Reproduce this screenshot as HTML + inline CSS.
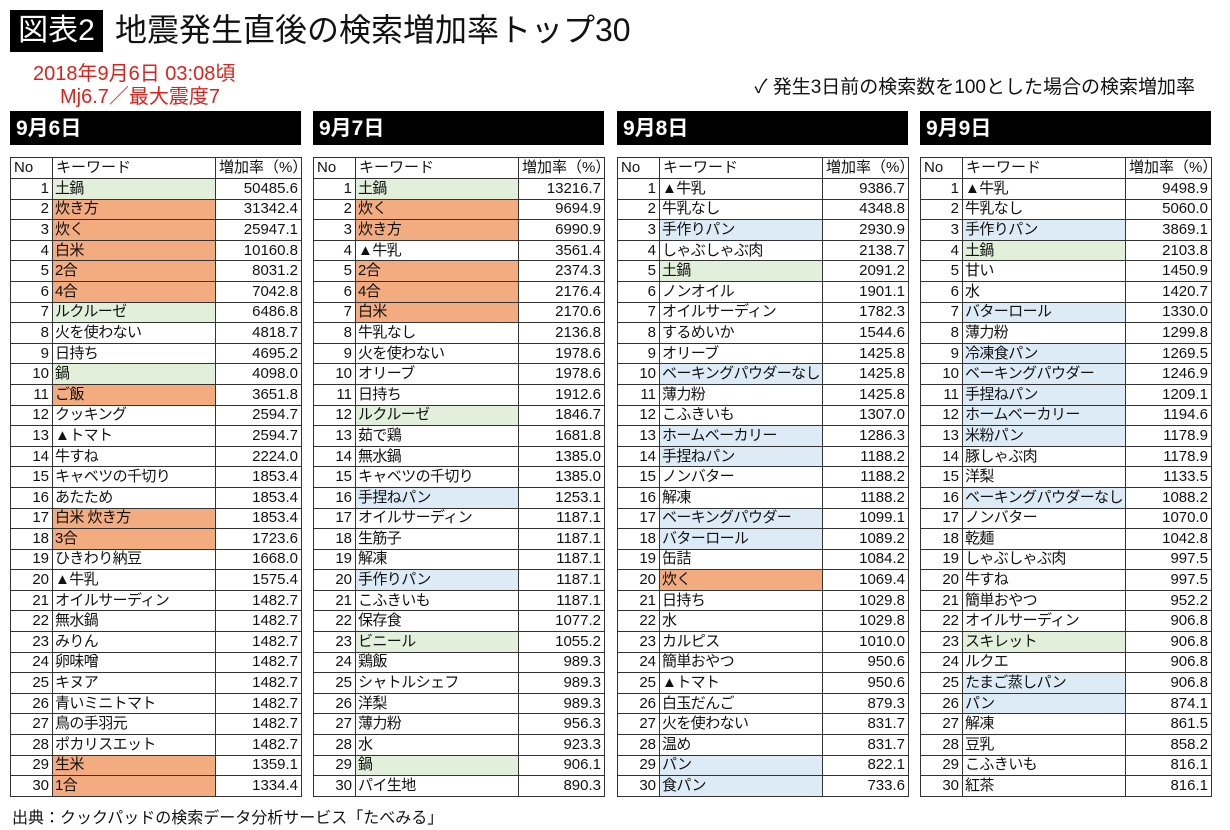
<!DOCTYPE html>
<html><head><meta charset="utf-8">
<style>
body{margin:0;width:1230px;height:830px;background:#fff;position:relative;overflow:hidden;font-family:"Liberation Sans","Noto Sans CJK JP",sans-serif;color:#111}
.abs{position:absolute}
#tag{left:10px;top:10px;width:93px;height:42px;background:#000;color:#fff;font-size:30px;line-height:42px;text-align:center}
#title{left:115px;top:9px;font-size:32px;line-height:42px;white-space:nowrap}
.red{color:#e0201a;font-size:20px;line-height:22px;white-space:nowrap}
#note{right:35px;top:76px;font-size:19px;line-height:24px;white-space:nowrap}
.bar{top:111px;height:34px;width:291px;background:#000;color:#fff;font-size:21px;font-weight:bold;line-height:36px;padding-left:6px;box-sizing:border-box}
table{position:absolute;top:157px;width:291px;border-collapse:collapse;font-size:15px;table-layout:fixed}
td{border:1px solid #333;padding:0 3px;height:20.6px;line-height:18px;white-space:nowrap;overflow:hidden;box-sizing:border-box}
td.k{letter-spacing:-0.6px;padding-left:2px}
tr.h td{height:21px}
td.n{text-align:right;padding-right:3px}
td.v{text-align:right}
.o{background:#f2ac80}.g{background:#e2efda}.b{background:#ddebf7}
#src{left:12px;top:804px;font-size:16px;white-space:nowrap}
</style></head><body>
<div class="abs" id="tag">図表2</div>
<div class="abs" id="title">地震発生直後の検索増加率トップ30</div>
<div class="abs red" style="left:33px;top:63px">2018年9月6日 03:08頃</div>
<div class="abs red" style="left:60px;top:86px">Mj6.7／最大震度7</div>
<div class="abs" id="note">✓ 発生3日前の検索数を100とした場合の検索増加率</div>
<div class="abs" id="src">出典：クックパッドの検索データ分析サービス「たべみる」</div>
<div id="root"></div>
<script>
const days=["9月6日","9月7日","9月8日","9月9日"];
const lefts=[10,313,617,920];
const kw6=["土鍋","炊き方","炊く","白米","2合","4合","ルクルーゼ","火を使わない","日持ち","鍋","ご飯","クッキング","▲トマト","牛すね","キャベツの千切り","あたため","白米 炊き方","3合","ひきわり納豆","▲牛乳","オイルサーディン","無水鍋","みりん","卵味噌","キヌア","青いミニトマト","鳥の手羽元","ポカリスエット","生米","1合"];
const val6=["50485.6","31342.4","25947.1","10160.8","8031.2","7042.8","6486.8","4818.7","4695.2","4098.0","3651.8","2594.7","2594.7","2224.0","1853.4","1853.4","1853.4","1723.6","1668.0","1575.4","1482.7","1482.7","1482.7","1482.7","1482.7","1482.7","1482.7","1482.7","1359.1","1334.4"];
const col6="gooooog--go-----oo----------oo";
const kw7=["土鍋","炊く","炊き方","▲牛乳","2合","4合","白米","牛乳なし","火を使わない","オリーブ","日持ち","ルクルーゼ","茹で鶏","無水鍋","キャベツの千切り","手捏ねパン","オイルサーディン","生筋子","解凍","手作りパン","こふきいも","保存食","ビニール","鶏飯","シャトルシェフ","洋梨","薄力粉","水","鍋","パイ生地"];
const val7=["13216.7","9694.9","6990.9","3561.4","2374.3","2176.4","2170.6","2136.8","1978.6","1978.6","1912.6","1846.7","1681.8","1385.0","1385.0","1253.1","1187.1","1187.1","1187.1","1187.1","1187.1","1077.2","1055.2","989.3","989.3","989.3","956.3","923.3","906.1","890.3"];
const col7="goo-ooo----g---b---b--g-----g-";
const kw8=["▲牛乳","牛乳なし","手作りパン","しゃぶしゃぶ肉","土鍋","ノンオイル","オイルサーディン","するめいか","オリーブ","ベーキングパウダーなし","薄力粉","こふきいも","ホームベーカリー","手捏ねパン","ノンバター","解凍","ベーキングパウダー","バターロール","缶詰","炊く","日持ち","水","カルピス","簡単おやつ","▲トマト","白玉だんご","火を使わない","温め","パン","食パン"];
const val8=["9386.7","4348.8","2930.9","2138.7","2091.2","1901.1","1782.3","1544.6","1425.8","1425.8","1425.8","1307.0","1286.3","1188.2","1188.2","1188.2","1099.1","1089.2","1084.2","1069.4","1029.8","1029.8","1010.0","950.6","950.6","879.3","831.7","831.7","822.1","733.6"];
const col8="--b-g----b--bb--bb-o--------bb";
const kw9=["▲牛乳","牛乳なし","手作りパン","土鍋","甘い","水","バターロール","薄力粉","冷凍食パン","ベーキングパウダー","手捏ねパン","ホームベーカリー","米粉パン","豚しゃぶ肉","洋梨","ベーキングパウダーなし","ノンバター","乾麺","しゃぶしゃぶ肉","牛すね","簡単おやつ","オイルサーディン","スキレット","ルクエ","たまご蒸しパン","パン","解凍","豆乳","こふきいも","紅茶"];
const val9=["9498.9","5060.0","3869.1","2103.8","1450.9","1420.7","1330.0","1299.8","1269.5","1246.9","1209.1","1194.6","1178.9","1178.9","1133.5","1088.2","1070.0","1042.8","997.5","997.5","952.2","906.8","906.8","906.8","906.8","874.1","861.5","858.2","816.1","816.1"];
const col9="--bg--b-bbbbb--b------g-bb----";
const KW=[kw6,kw7,kw8,kw9],VAL=[val6,val7,val8,val9],COL=[col6,col7,col8,col9];
const root=document.getElementById('root');
days.forEach((d,i)=>{
  const bar=document.createElement('div');
  bar.className='abs bar';bar.style.left=lefts[i]+'px';bar.textContent=d;
  
  
  root.appendChild(bar);
  const t=document.createElement('table');
  t.style.left=lefts[i]+'px';
  
  
  let h='<colgroup><col style="width:42px"><col style="width:163px"><col style="width:86px"></colgroup>';
  h+='<tr class="h"><td>No</td><td>キーワード</td><td>増加率（%）</td></tr>';
  for(let r=0;r<30;r++){
    const c=COL[i][r];
    h+='<tr><td class="n">'+(r+1)+'</td><td class="k '+(c==='-'?'':c)+'">'+KW[i][r]+'</td><td class="v">'+VAL[i][r]+'</td></tr>';
  }
  t.innerHTML=h;
  root.appendChild(t);
});
</script>
</body></html>
